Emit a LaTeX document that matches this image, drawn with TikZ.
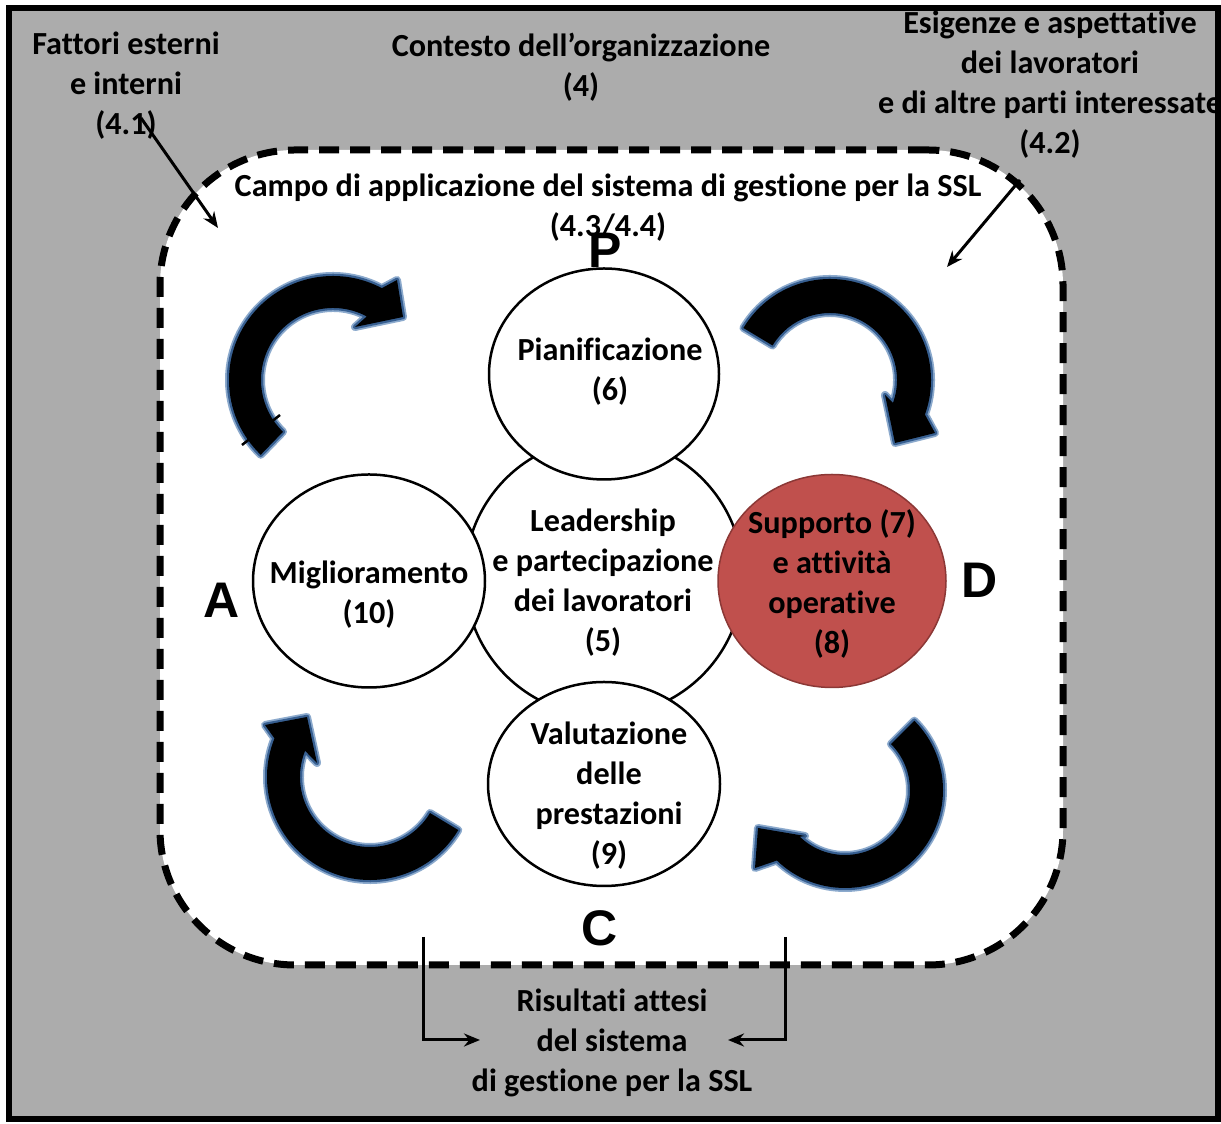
\documentclass[tikz,border=0pt]{standalone}
\usepackage{fontspec}
\setmainfont{Carlito}[Ligatures={NoCommon}]
\newfontfamily\pdcafont{Liberation Sans}
\usetikzlibrary{shapes.geometric,arrows.meta}
\definecolor{bggray}{RGB}{172,172,172}
\definecolor{redfill}{RGB}{192,80,77}
\definecolor{redline}{RGB}{140,56,54}
\definecolor{glowA}{RGB}{55,95,145}
\definecolor{glowB}{RGB}{140,170,205}
\begin{document}
\begin{tikzpicture}[x=1pt,y=1pt,
 txt/.style={font=\fontsize{32.2}{40}\selectfont\bfseries, align=center, inner sep=0pt},
 pdca/.style={font=\fontsize{50}{50}\selectfont\pdcafont\bfseries, inner sep=0pt},
 ring/.style={ellipse, draw=black, line width=2.5pt, fill=white, inner sep=0pt},
 thinarrow/.style={line width=3pt, -{Stealth[length=16pt,width=13pt]}},
 bigarrow/.style={fill=black,
   preaction={draw=glowB, line width=8pt, line join=round},
   preaction={draw=glowA, line width=4.5pt, line join=round}},
]
\useasboundingbox (0,0) rectangle (1221,1124);
% background
\fill[bggray] (9,5) rectangle (1218,1116);

% scope region
\node[draw=black, fill=white, line width=7pt, dash pattern=on 20pt off 11pt,
      rounded corners=135pt, minimum width=903pt, minimum height=815pt, inner sep=0pt]
      (campo) at (611.5,566.5) {};

% circles
\node[ring, minimum width=278pt, minimum height=278pt] (lead) at (604,547) {};
\node[ring, minimum width=230pt, minimum height=211pt] (pian) at (604,750) {};
\node[ring, minimum width=232pt, minimum height=213pt] (migl) at (369,543) {};
\node[ring, fill=redfill, draw=redline, line width=1.5pt, minimum width=228pt, minimum height=213pt] (supp) at (832,543) {};
\node[ring, minimum width=232pt, minimum height=204pt] (valu) at (604,340) {};

% big curved arrows
\path[bigarrow] ([shift={(333,744)}]226:104) arc[start angle=226, end angle=62, radius=104]
  -- (397,844) -- (403,807) -- (355,797)
  -- ([shift={(333,744)}]62:72) arc[start angle=62, end angle=226, radius=72] -- cycle;
\path[bigarrow] ([shift={(830,744)}]149:101) arc[start angle=149, end angle=-20, radius=101]
  -- (935,691) -- (895,681) -- (885,729)
  -- ([shift={(830,744)}]-20:67) arc[start angle=-20, end angle=149, radius=67] -- cycle;
\path[bigarrow] ([shift={(370,347)}]-31:103) arc[start angle=-31, end angle=-202, radius=103]
  -- (265,399) -- (307,407) -- (317,361)
  -- ([shift={(370,347)}]158:70) arc[start angle=158, end angle=329, radius=70] -- cycle;
\path[bigarrow] ([shift={(845,334)}]45:98) arc[start angle=45, end angle=-134, radius=98]
  -- (755,256) -- (758,296) -- (805,288)
  -- ([shift={(845,334)}]-134:65) arc[start angle=-134, end angle=45, radius=65] -- cycle;
\draw[line width=2.5pt] (242,679) -- (280,709);

% circle texts
\node[txt] (tpian) at (610,752) {Pianificazione\\(6)};
\node[txt] (tlead) at (603,541) {Leadership\\e partecipazione\\dei lavoratori\\(5)};
\node[txt] (tmigl) at (369,529) {Miglioramento\\(10)};
\node[txt] (tsupp) at (832,540) {Supporto (7)\\e attività\\operative\\(8)};
\node[txt] (tvalu) at (609,328) {Valutazione\\delle\\prestazioni\\(9)};

% PDCA letters
\node[pdca] (lp) at (605,874) {P};
\node[pdca] (la) at (222,524) {A};
\node[pdca] (lc) at (600,196) {C};
\node[pdca] (ld) at (980,544) {D};

% scope title
\node[txt] (tcampo) at (608,916) {Campo di applicazione del sistema di gestione per la SSL\\(4.3/4.4)};

% outer texts
\begin{scope}
\clip (9,5) rectangle (1218,1116);
\node[txt] (tfatt) at (126,1038) {Fattori esterni\\e interni\\(4.1)};
\node[txt] (tcont) at (581,1056.5) {Contesto dell’organizzazione\\(4)};
\node[txt] (tesig) at (1050,1039) {Esigenze e aspettative\\dei lavoratori\\e di altre parti interessate\\(4.2)};
\node[txt] (tris) at (612,81) {Risultati attesi\\del sistema\\di gestione per la SSL};
\end{scope}

% thin connectors
\coordinate (f41a) at (141,1006);
\coordinate (f41b) at (218,896);
\draw[thinarrow] (f41a) -- (f41b);
\coordinate (f42a) at (1020,944);
\coordinate (f42b) at (947,857);
\draw[thinarrow] (f42a) -- (f42b);
\coordinate (rl1) at (423,187);
\coordinate (rl2) at (480,84);
\draw[thinarrow] (rl1) |- (rl2);
\coordinate (rr1) at (785,187);
\coordinate (rr2) at (728,84);
\draw[thinarrow] (rr1) |- (rr2);

% frame
\draw[line width=6pt] (9,5) rectangle (1218,1116);
\end{tikzpicture}
\end{document}
